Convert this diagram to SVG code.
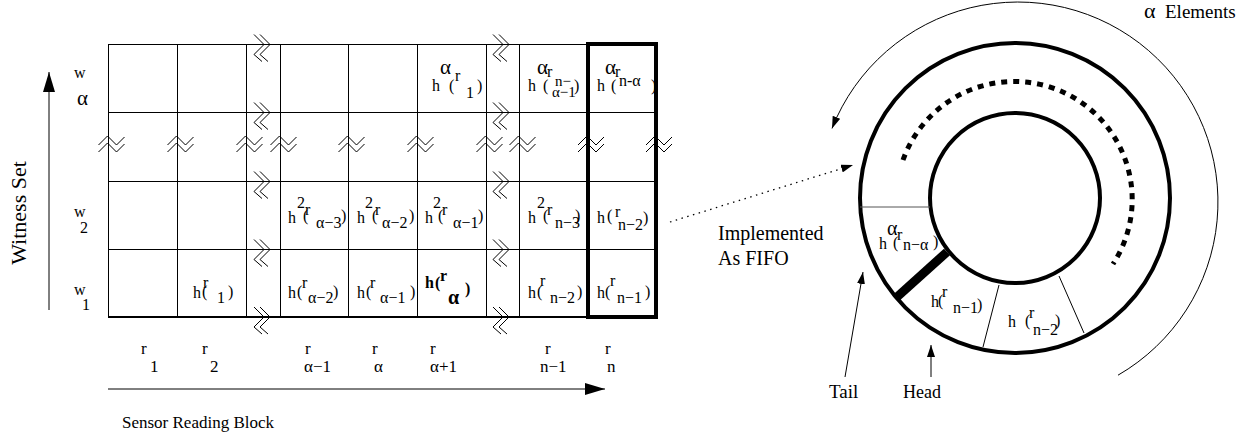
<svg xmlns="http://www.w3.org/2000/svg" xmlns:xlink="http://www.w3.org/1999/xlink" width="1256" height="440" viewBox="0 0 1256 440">
<style>
.ln{stroke:#000;stroke-width:1;fill:none}
.brk{stroke:#000;stroke-width:1;fill:none}
text{font-family:"Liberation Serif","Times New Roman",serif;fill:#000;font-size:16px}
.al{font-size:21px}
.s15{font-size:15px}
.lab{font-size:17px}
.big{font-size:20px}
.b{font-weight:bold}
</style>
<defs>
<marker id="ahBig" markerUnits="userSpaceOnUse" markerWidth="20" markerHeight="12" refX="20" refY="6" orient="auto"><path d="M0,0 L20,6 L0,12 z" fill="#000"/></marker>
<marker id="ahSm" markerUnits="userSpaceOnUse" markerWidth="12" markerHeight="8" refX="12" refY="4" orient="auto"><path d="M0,0 L12,4 L0,8 z" fill="#000"/></marker>
<g id="hb" class="brk"><polyline points="0,-10 10,0 0,10 8,17"/><polyline points="6,-10 16,0 6,10 14,17"/></g>
<g id="vb" class="brk"><polyline points="-10,9 -1,0 8,9 16,1"/><polyline points="-10,16 -1,7 8,16 16,8"/></g>
</defs>
<rect width="1256" height="440" fill="#fff"/>

<g id="grid">
<g class="ln">
<line x1="108.5" y1="44" x2="108.5" y2="317"/>
<line x1="177.5" y1="44" x2="177.5" y2="317"/>
<line x1="246.5" y1="44" x2="246.5" y2="317"/>
<line x1="280.5" y1="44" x2="280.5" y2="317"/>
<line x1="348.5" y1="44" x2="348.5" y2="317"/>
<line x1="417.5" y1="44" x2="417.5" y2="317"/>
<line x1="486.5" y1="44" x2="486.5" y2="317"/>
<line x1="519.5" y1="44" x2="519.5" y2="317"/>
<line x1="108" y1="44.5" x2="657" y2="44.5"/>
<line x1="108" y1="112.5" x2="657" y2="112.5"/>
<line x1="108" y1="181.5" x2="657" y2="181.5"/>
<line x1="108" y1="249.5" x2="657" y2="249.5"/>
</g>
<line x1="108" y1="317" x2="657" y2="317" stroke="#000" stroke-width="2"/>
<use xlink:href="#hb" x="254" y="44.5"/><use xlink:href="#hb" x="254" y="112.5"/><use xlink:href="#hb" x="254" y="181.5"/><use xlink:href="#hb" x="254" y="249.5"/><use xlink:href="#hb" x="254" y="317"/>
<use xlink:href="#hb" x="493" y="44.5"/><use xlink:href="#hb" x="493" y="112.5"/><use xlink:href="#hb" x="493" y="181.5"/><use xlink:href="#hb" x="493" y="249.5"/><use xlink:href="#hb" x="493" y="317"/>
<use xlink:href="#vb" x="108.5" y="136"/><use xlink:href="#vb" x="177.5" y="136"/><use xlink:href="#vb" x="246.5" y="136"/><use xlink:href="#vb" x="280.5" y="136"/><use xlink:href="#vb" x="348.5" y="136"/><use xlink:href="#vb" x="417.5" y="136"/><use xlink:href="#vb" x="486.5" y="136"/><use xlink:href="#vb" x="519.5" y="136"/><use xlink:href="#vb" x="588" y="136"/><use xlink:href="#vb" x="656" y="136"/>
<rect x="588" y="44" width="68" height="273" fill="none" stroke="#000" stroke-width="4"/>
</g>

<g id="row-labels">
<text><tspan x="74" y="78">w</tspan><tspan x="77" y="105" class="al">α</tspan></text>
<text><tspan x="74" y="217">w</tspan><tspan x="80" y="233">2</tspan></text>
<text><tspan x="74" y="295">w</tspan><tspan x="82" y="310">1</tspan></text>
<text class="lab" style="font-size:22px" text-anchor="middle" transform="translate(26 213) rotate(-90)">Witness Set</text>
</g>

<g id="cells">
<text id="c-a-1"><tspan x="432" y="91">h</tspan><tspan x="440" y="74" class="al">α</tspan><tspan x="449" y="91">(</tspan><tspan x="455" y="81">r</tspan><tspan x="466" y="98">1</tspan><tspan x="477" y="91">)</tspan></text>
<text id="c-a-n1"><tspan x="528" y="91">h</tspan><tspan x="537" y="74" class="al">α</tspan><tspan x="543" y="91">(</tspan><tspan x="547" y="77">r</tspan><tspan x="555" y="86" class="s15">n−</tspan><tspan x="552" y="97" class="s15">α−1</tspan><tspan x="574" y="91">)</tspan></text>
<text id="c-a-na"><tspan x="597" y="91">h</tspan><tspan x="605" y="74" class="al">α</tspan><tspan x="611" y="91">(</tspan><tspan x="615" y="77">r</tspan><tspan x="619" y="86">n-α</tspan><tspan x="651" y="91">)</tspan></text>

<text id="c-2-a3"><tspan x="288" y="223">h</tspan><tspan x="297" y="208">2</tspan><tspan x="303" y="221">(</tspan><tspan x="305" y="215">r</tspan><tspan x="316" y="228">α−3</tspan><tspan x="341" y="221">)</tspan></text>
<text id="c-2-a2"><tspan x="357" y="223">h</tspan><tspan x="365" y="208">2</tspan><tspan x="372" y="221">(</tspan><tspan x="375" y="215">r</tspan><tspan x="382" y="228">α−2</tspan><tspan x="409" y="221">)</tspan></text>
<text id="c-2-a1"><tspan x="425" y="223">h</tspan><tspan x="433" y="208">2</tspan><tspan x="438" y="221">(</tspan><tspan x="442" y="215">r</tspan><tspan x="453" y="228">α−1</tspan><tspan x="478" y="221">)</tspan></text>
<text id="c-2-n3"><tspan x="528" y="223">h</tspan><tspan x="537" y="208">2</tspan><tspan x="543" y="221">(</tspan><tspan x="547" y="215">r</tspan><tspan x="555" y="228">n−3</tspan><tspan x="575" y="221">)</tspan></text>
<text id="c-2-n2"><tspan x="597" y="223">h</tspan><tspan x="607" y="221">(</tspan><tspan x="615" y="217">r</tspan><tspan x="618" y="230">n−2</tspan><tspan x="643" y="223">)</tspan></text>

<text id="c-1-1"><tspan x="193" y="298">h</tspan><tspan x="202" y="297">(</tspan><tspan x="203" y="288">r</tspan><tspan x="217" y="303">1</tspan><tspan x="228" y="297">)</tspan></text>
<text id="c-1-a2"><tspan x="288" y="298">h</tspan><tspan x="297" y="297">(</tspan><tspan x="302" y="288">r</tspan><tspan x="308" y="303">α−2</tspan><tspan x="333" y="297">)</tspan></text>
<text id="c-1-a1"><tspan x="357" y="298">h</tspan><tspan x="366" y="297">(</tspan><tspan x="370" y="288">r</tspan><tspan x="380" y="303">α−1</tspan><tspan x="410" y="297">)</tspan></text>
<text id="c-1-a" class="b"><tspan x="425" y="288">h</tspan><tspan x="435" y="288">(</tspan><tspan x="440" y="281">r</tspan><tspan x="448" y="304" style="font-size:20px">α</tspan><tspan x="465" y="294">)</tspan></text>
<text id="c-1-n2"><tspan x="528" y="298">h</tspan><tspan x="537" y="297">(</tspan><tspan x="540" y="286">r</tspan><tspan x="550" y="303">n−2</tspan><tspan x="577" y="297">)</tspan></text>
<text id="c-1-n1"><tspan x="597" y="298">h</tspan><tspan x="605" y="297">(</tspan><tspan x="610" y="286">r</tspan><tspan x="617" y="303">n−1</tspan><tspan x="645" y="297">)</tspan></text>
</g>

<g id="col-labels" class="lab">
<text class="lab"><tspan x="141" y="354">r</tspan><tspan x="150" y="372">1</tspan></text>
<text class="lab"><tspan x="202" y="354">r</tspan><tspan x="210" y="372">2</tspan></text>
<text class="lab"><tspan x="305" y="354">r</tspan><tspan x="304" y="372">α−1</tspan></text>
<text class="lab"><tspan x="372" y="354">r</tspan><tspan x="374" y="372">α</tspan></text>
<text class="lab"><tspan x="430" y="354">r</tspan><tspan x="430" y="372">α+1</tspan></text>
<text class="lab"><tspan x="545" y="354">r</tspan><tspan x="540" y="372">n−1</tspan></text>
<text class="lab"><tspan x="605" y="354">r</tspan><tspan x="607" y="372">n</tspan></text>
<text class="lab" x="122" y="428">Sensor Reading Block</text>
</g>

<g id="fifo">
<circle cx="1015" cy="198" r="155" fill="none" stroke="#000" stroke-width="4"/>
<circle cx="1015" cy="198" r="85" fill="none" stroke="#000" stroke-width="4"/>
<line x1="860" y1="207" x2="930" y2="207" stroke="#555" stroke-width="1"/>
<line x1="947" y1="252" x2="897" y2="297" stroke="#000" stroke-width="9"/>
<line x1="999" y1="285" x2="983" y2="347" stroke="#000" stroke-width="1"/>
<line x1="1059" y1="276" x2="1084" y2="333" stroke="#000" stroke-width="1"/>
<path d="M903,160 A118,118 0 1 1 1113,264" fill="none" stroke="#000" stroke-width="5" stroke-dasharray="6 6"/>
<text id="f-na"><tspan x="879" y="249">h</tspan><tspan x="887" y="235" style="font-size:20px">α</tspan><tspan x="893" y="248">(</tspan><tspan x="897" y="240">r</tspan><tspan x="903" y="250">n−α</tspan><tspan x="933" y="247">)</tspan></text>
<text id="f-n1"><tspan x="931" y="307">h</tspan><tspan x="938" y="306">(</tspan><tspan x="942" y="297">r</tspan><tspan x="953" y="313">n−1</tspan><tspan x="977" y="310">)</tspan></text>
<text id="f-n2"><tspan x="1008" y="327">h</tspan><tspan x="1025" y="326">(</tspan><tspan x="1029" y="318">r</tspan><tspan x="1033" y="335">n−2</tspan><tspan x="1055" y="326">)</tspan></text>
<text class="big" x="718" y="240">Implemented</text>
<text class="big" x="718" y="265">As FIFO</text>
<text style="font-size:19px" x="829" y="398">Tail</text>
<text style="font-size:18px" x="903" y="398">Head</text>
<text><tspan x="1144" y="18" style="font-size:22px">α</tspan><tspan x="1165" y="18" style="font-size:19px">Elements</tspan></text>
</g>

<g id="connectors" fill="none" stroke="#000">
<line x1="49" y1="310" x2="49" y2="72" stroke-width="1" marker-end="url(#ahBig)"/>
<line x1="108" y1="389" x2="605" y2="389" stroke-width="1" marker-end="url(#ahBig)"/>
<line x1="670" y1="222" x2="853" y2="165" stroke-width="1.3" stroke-dasharray="1.5 4.5" marker-end="url(#ahSm)"/>
<line x1="845" y1="377" x2="863" y2="272" stroke-width="1" marker-end="url(#ahSm)"/>
<line x1="931" y1="377" x2="931" y2="345" stroke-width="1" marker-end="url(#ahSm)"/>
<path d="M1118,375.2 A200,200 0 1 0 832,128.4" stroke-width="1" marker-end="url(#ahSm)"/>
</g>
</svg>
